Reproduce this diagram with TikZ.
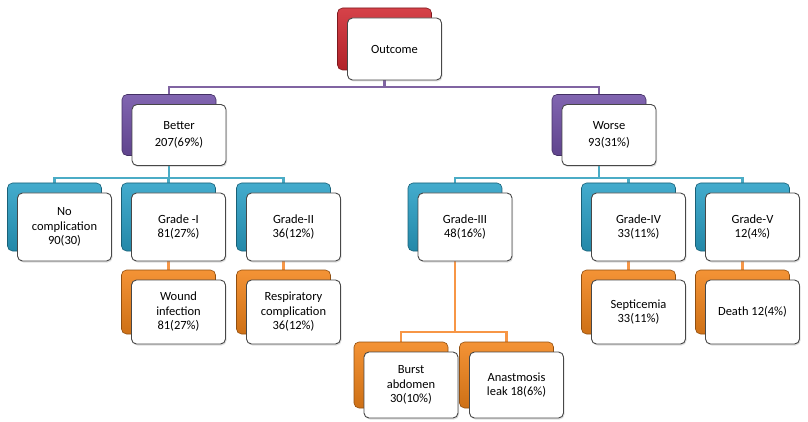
\documentclass[tikz,border=0pt]{standalone}
\usepackage{fontspec}
\setmainfont{Carlito}
\usetikzlibrary{backgrounds,shadows}
\definecolor{cred}{HTML}{D02830}
\definecolor{cpur}{HTML}{7050A6}
\definecolor{ccya}{HTML}{2AA0C6}
\definecolor{cora}{HTML}{F2841A}
\definecolor{lpur}{HTML}{8064A2}
\definecolor{lcya}{HTML}{4BACC6}
\definecolor{lora}{HTML}{F79646}
\pgfdeclareradialshading{softwhite}{\pgfpoint{0bp}{0bp}}{%
  color(0bp)=(white); color(36bp)=(white); color(50bp)=(black!12)}
\newcommand\pairbox[7]{%
  \node[backbox=#4, minimum height=#5pt] (#1b) at (#2,#3) {};
  \node[frontbox, minimum height=#5pt, font=#6] (#1) at (#2+10,#3+10) {#7};
}
\begin{document}
\begin{tikzpicture}[x=1pt,y=-1pt,
  backbox/.style={draw=#1!60!black, line width=0.6pt, rounded corners=5pt,
    minimum width=94pt, top color=#1!88!white, bottom color=#1!85!black},
  frontbox/.style={draw=black!72, line width=0.9pt, rounded corners=5pt,
    minimum width=94pt, shading=softwhite,
    align=center, text=black,
    drop shadow={opacity=0.25, shadow xshift=1pt, shadow yshift=-1.5pt}},
  conn/.style={line width=2.3pt, draw=#1}]
\useasboundingbox (0,0) rectangle (808,422);
\def\fa{\fontsize{12.5}{17.5}\selectfont}
\def\fb{\fontsize{12.5}{14.5}\selectfont}
% level 0
\pairbox{out}{384.5}{39}{cred}{62}{\fa}{Outcome}
% level 1
\pairbox{bet}{169}{125}{cpur}{61}{\fa}{Better\\207(69\%)}
\pairbox{wor}{599}{125}{cpur}{61}{\fa}{Worse\\93(31\%)}
% level 2
\pairbox{noc}{54.5}{217}{ccya}{68}{\fb}{No\\complication\\90(30)}
\pairbox{gi}{168.5}{217}{ccya}{68}{\fb}{Grade -I\\81(27\%)}
\pairbox{gii}{283.5}{217}{ccya}{68}{\fb}{Grade-II\\36(12\%)}
\pairbox{giii}{455}{217}{ccya}{68}{\fb}{Grade-III\\48(16\%)}
\pairbox{giv}{628.5}{217}{ccya}{68}{\fb}{Grade-IV\\33(11\%)}
\pairbox{gv}{742.5}{217}{ccya}{68}{\fb}{Grade-V\\12(4\%)}
% level 3
\pairbox{wou}{168.5}{302}{cora}{64}{\fb}{Wound\\infection\\81(27\%)}
\pairbox{res}{283.5}{302}{cora}{64}{\fb}{Respiratory\\complication\\36(12\%)}
\pairbox{sep}{628.5}{302}{cora}{64}{\fb}{Septicemia\\33(11\%)}
\pairbox{dea}{742.5}{302}{cora}{64}{\fb}{Death 12(4\%)}
% level 4
\pairbox{bur}{401}{375}{cora}{66}{\fb}{Burst\\abdomen\\30(10\%)}
\pairbox{ana}{506.5}{375}{cora}{66}{\fb}{Anastmosis\\leak 18(6\%)}
\coordinate (busP) at (0,87);
\coordinate (busC) at (0,178);
\coordinate (busO) at (0,332);
\begin{scope}[on background layer]
\draw[conn=lpur] (outb.center) -- (outb.center |- busP) -| (betb.center);
\draw[conn=lpur] (outb.center |- busP) -| (worb.center);
\draw[conn=lcya] (betb.center) -- (betb.center |- busC) -| (nocb.center);
\draw[conn=lcya] (betb.center |- busC) -| (gib.center);
\draw[conn=lcya] (betb.center |- busC) -| (giib.center);
\draw[conn=lcya] (worb.center) -- (worb.center |- busC) -| (giiib.center);
\draw[conn=lcya] (worb.center |- busC) -| (givb.center);
\draw[conn=lcya] (worb.center |- busC) -| (gvb.center);
\draw[conn=lora] (gib.center) -- (woub.center);
\draw[conn=lora] (giib.center) -- (resb.center);
\draw[conn=lora] (givb.center) -- (sepb.center);
\draw[conn=lora] (gvb.center) -- (deab.center);
\draw[conn=lora] (giiib.center) -- (giiib.center |- busO) -| (burb.center);
\draw[conn=lora] (giiib.center |- busO) -| (anab.center);
\end{scope}
\end{tikzpicture}
\end{document}
